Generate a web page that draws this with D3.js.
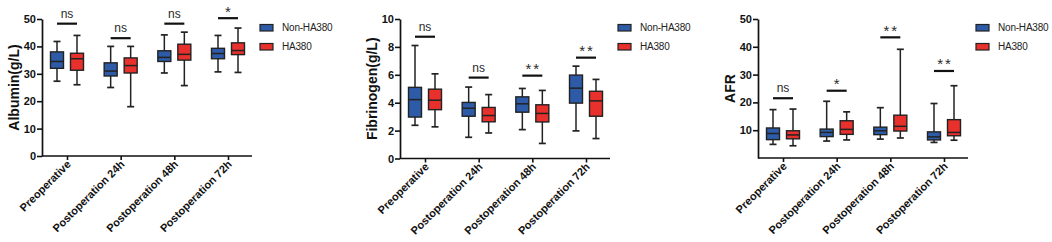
<!DOCTYPE html>
<html>
<head>
<meta charset="utf-8">
<script src="https://cdn.jsdelivr.net/npm/d3@7"></script>
<style>
  html, body { margin: 0; padding: 0; background: #fff; }
  svg { display: block; }
</style>
</head>
<body>
<svg id="chart" width="1052" height="242"></svg>
<script>
// ---- data (five-number summaries: min, q1, median, q3, max) ----
const CATEGORIES = ['Preoperative', 'Postoperation 24h', 'Postoperation 48h', 'Postoperation 72h'];
const SERIES = ['Non-HA380', 'HA380'];

const ALBUMIN_NON = [[27.3, 32, 34.5, 38, 41.8], [25, 29.2, 31, 34, 40], [30.3, 34.5, 36, 38.4, 44.2], [30.7, 35.5, 37.4, 39.3, 44]];
const ALBUMIN_HA  = [[26, 31.3, 35.5, 37.5, 44], [18, 30.3, 33, 35.8, 40], [25.7, 35, 37.1, 40.8, 45.2], [30.5, 37, 38.5, 41.3, 46.7]];
const ALBUMIN_SIG = ['ns', 'ns', 'ns', '*'];
const ALBUMIN_SIG_Y = [48.3, 43, 48.3, 50.3];
const ALBUMIN_TICKS = [0, 10, 20, 30, 40, 50];

const FIB_NON = [[2.38, 2.97, 4.22, 5.1, 8.1], [1.52, 3.03, 3.6, 4.02, 5.12], [2.07, 3.32, 3.92, 4.42, 5.02], [1.98, 3.97, 5.04, 5.98, 6.62]];
const FIB_HA  = [[2.27, 3.5, 4.18, 4.97, 6.07], [1.83, 2.63, 3.08, 3.66, 4.58], [1.08, 2.62, 3.23, 3.85, 4.88], [1.43, 3.03, 4.13, 4.82, 5.67]];
const FIB_SIG = ['ns', 'ns', '**', '**'];
const FIB_SIG_Y = [8.73, 5.8, 5.94, 7.23];
const FIB_TICKS = [0, 2, 4, 6, 8, 10];

const AFR_NON = [[4.9, 6.6, 8.8, 10.8, 17.4], [6.1, 7.7, 9.2, 10.4, 20.4], [6.8, 8.4, 9.8, 11.1, 18.1], [5.6, 6.5, 7.6, 9.4, 19.6]];
const AFR_HA  = [[4.4, 6.9, 8.3, 9.8, 17.6], [6.5, 8.5, 10.3, 13.4, 16.6], [7.2, 9.7, 11.4, 15.4, 39.1], [6.4, 8, 9.2, 13.8, 26]];
const AFR_SIG = ['ns', '*', '**', '**'];
const AFR_SIG_Y = [21.5, 24.2, 43.4, 31.3];
const AFR_TICKS = [10, 20, 30, 40, 50];

const COLORS = ['#2D5BA8', '#E8302C'];
const FONT = 'Liberation Sans, Arial, Helvetica, sans-serif';

const PANELS = [
  { x0: 42,  yBot: 156,   label: 'Albumin(g/L)',    max: 50, ticks: ALBUMIN_TICKS, series: [ALBUMIN_NON, ALBUMIN_HA], sig: ALBUMIN_SIG, sigY: ALBUMIN_SIG_Y },
  { x0: 400, yBot: 158.5, label: 'Fibrinogen(g/L)', max: 10, ticks: FIB_TICKS,     series: [FIB_NON, FIB_HA],         sig: FIB_SIG,     sigY: FIB_SIG_Y },
  { x0: 758, yBot: 158,   label: 'AFR',             max: 50, ticks: AFR_TICKS,     series: [AFR_NON, AFR_HA],         sig: AFR_SIG,     sigY: AFR_SIG_Y },
];

const svg = d3.select('#chart');
const BOX_W = 13, OFF = 10, CAP = 7;

PANELS.forEach(p => {
  const g = svg.append('g');
  const x = d3.scalePoint().domain(CATEGORIES).range([p.x0 + 25, p.x0 + 186]);
  const y = d3.scaleLinear().domain([0, p.max]).range([p.yBot, 19]);

  // y axis
  const yAx = g.append('g').attr('transform', `translate(${p.x0},0)`)
    .call(d3.axisLeft(y).tickValues(p.ticks).tickSize(5).tickPadding(1).tickSizeOuter(0));
  yAx.select('.domain').attr('stroke', '#111').attr('stroke-width', 1.7);
  yAx.selectAll('.tick line').attr('stroke', '#111').attr('stroke-width', 1.6);
  yAx.selectAll('text').attr('font-family', FONT).attr('font-size', 11)
    .attr('font-weight', 700).attr('fill', '#111');

  // x axis
  const xAx = g.append('g').attr('transform', `translate(0,${p.yBot})`)
    .call(d3.axisBottom(x).tickSize(4).tickSizeOuter(0));
  xAx.select('.domain').attr('d', `M${p.x0},0H${p.x0 + 210}`)
    .attr('stroke', '#111').attr('stroke-width', 1.7);
  xAx.selectAll('.tick line').attr('stroke', '#111').attr('stroke-width', 1.6);
  xAx.selectAll('text')
    .attr('font-family', FONT).attr('font-size', 11).attr('font-weight', 700).attr('fill', '#111')
    .attr('text-anchor', 'end').attr('dy', 0).attr('y', 0)
    .attr('transform', 'translate(4,9) rotate(-45)');

  // y label
  g.append('text')
    .attr('transform', `translate(${p.x0 - 28},${(p.yBot + 19) / 2}) rotate(-90)`)
    .attr('text-anchor', 'middle').attr('dy', '0.35em')
    .attr('font-family', FONT).attr('font-size', 14).attr('font-weight', 700).attr('fill', '#111')
    .text(p.label);

  // boxes
  p.series.forEach((data, si) => {
    const dx = si === 0 ? -OFF : OFF;
    const bg = g.append('g').selectAll('g').data(data).join('g')
      .attr('transform', (d, i) => `translate(${x(CATEGORIES[i]) + dx},0)`);
    bg.append('line').attr('x1', 0).attr('x2', 0)
      .attr('y1', d => y(d[0])).attr('y2', d => y(d[4]))
      .attr('stroke', '#222').attr('stroke-width', 1.5);
    bg.append('line').attr('x1', -CAP / 2).attr('x2', CAP / 2)
      .attr('y1', d => y(d[4])).attr('y2', d => y(d[4]))
      .attr('stroke', '#222').attr('stroke-width', 1.7);
    bg.append('line').attr('x1', -CAP / 2).attr('x2', CAP / 2)
      .attr('y1', d => y(d[0])).attr('y2', d => y(d[0]))
      .attr('stroke', '#222').attr('stroke-width', 1.7);
    bg.append('rect').attr('x', -BOX_W / 2).attr('width', BOX_W)
      .attr('y', d => y(d[3])).attr('height', d => y(d[1]) - y(d[3]))
      .attr('fill', COLORS[si]).attr('stroke', '#222').attr('stroke-width', 1.4);
    bg.append('line').attr('x1', -BOX_W / 2).attr('x2', BOX_W / 2)
      .attr('y1', d => y(d[2])).attr('y2', d => y(d[2]))
      .attr('stroke', '#222').attr('stroke-width', 1.5);
  });

  // significance brackets
  const sg = g.append('g').selectAll('g').data(p.sig).join('g')
    .attr('transform', (d, i) => `translate(${x(CATEGORIES[i])},${y(p.sigY[i])})`);
  sg.append('line').attr('x1', -OFF).attr('x2', OFF).attr('y1', 0).attr('y2', 0)
    .attr('stroke', '#111').attr('stroke-width', 2.2);
  sg.append('text')
    .attr('text-anchor', 'middle')
    .attr('x', d => d === 'ns' ? 0 : 1)
    .attr('y', d => d === 'ns' ? -6 : -1.5)
    .attr('font-family', FONT)
    .attr('font-size', d => d === 'ns' ? 12 : 15)
    .attr('letter-spacing', d => d === 'ns' ? 0 : 2)
    .attr('fill', '#2a2a2a')
    .text(d => d);

  // legend
  const lg = g.append('g').selectAll('g').data(SERIES).join('g')
    .attr('transform', (d, i) => `translate(${p.x0 + 218},${27.5 + i * 19})`);
  lg.append('rect').attr('x', 0).attr('y', -3).attr('width', 13).attr('height', 6.5)
    .attr('fill', (d, i) => COLORS[i]).attr('stroke', '#222').attr('stroke-width', 1.2);
  lg.append('text').attr('x', 22).attr('y', 3.8)
    .attr('font-family', FONT).attr('font-size', 10).attr('letter-spacing', -0.2).attr('fill', '#222')
    .text(d => d);
});
</script>
</body>
</html>
